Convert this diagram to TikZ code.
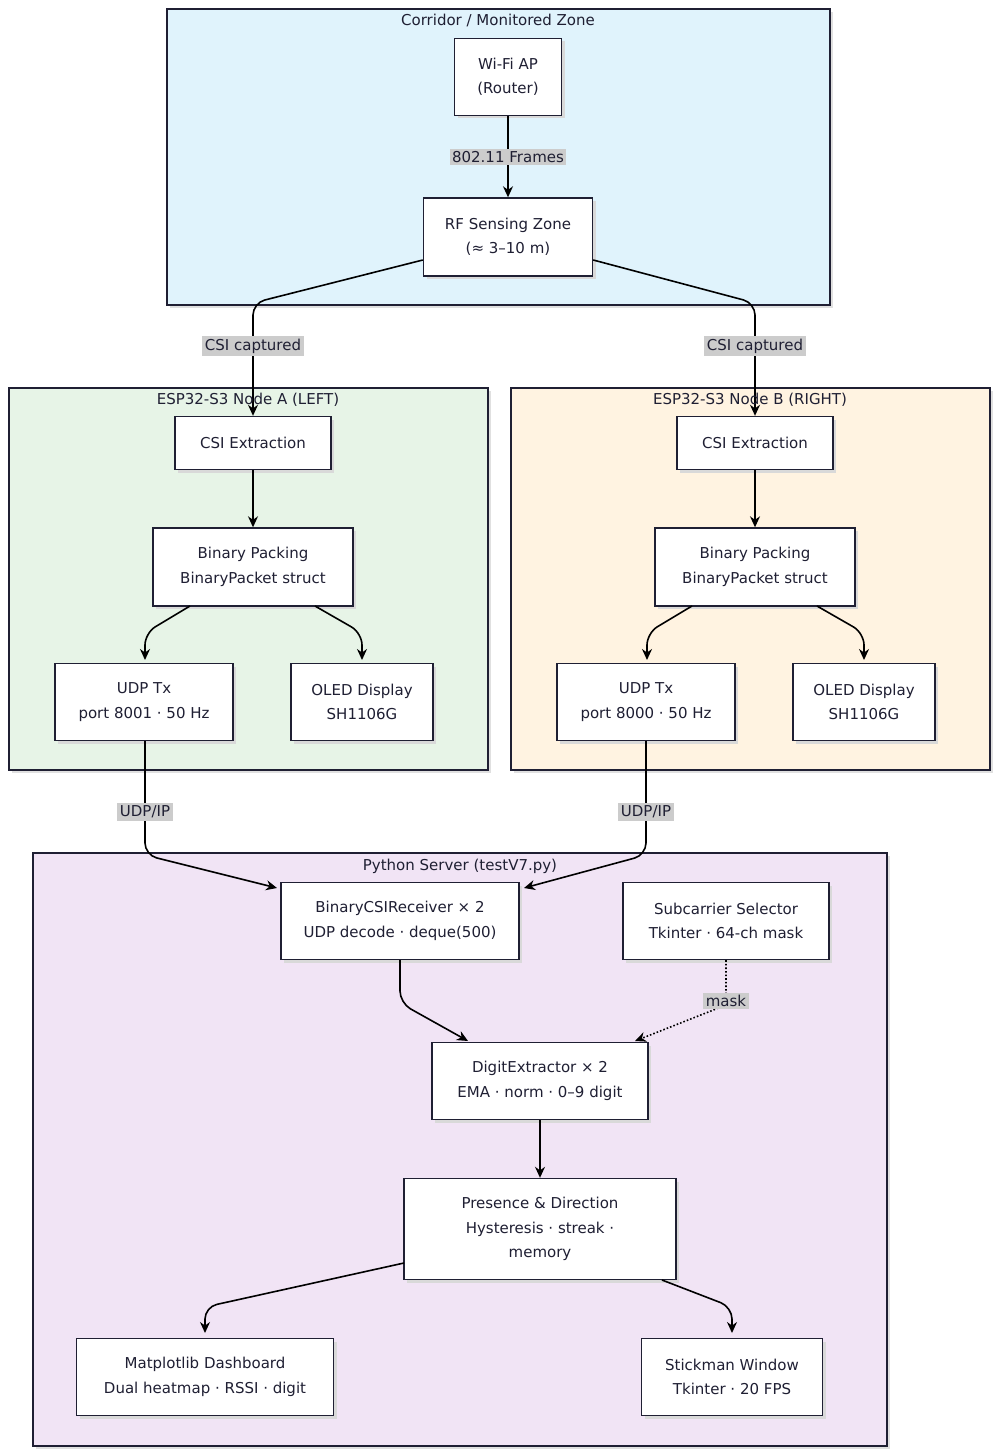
\documentclass[tikz,border=0pt]{standalone}
\usepackage{fontspec}
\setmainfont{DejaVu Sans}
\usetikzlibrary{arrows.meta,shadows}
\definecolor{zblue}{HTML}{E0F3FC}
\definecolor{zgreen}{HTML}{E7F4E7}
\definecolor{zorange}{HTML}{FFF3E1}
\definecolor{zpurple}{HTML}{F1E4F5}
\definecolor{ink}{HTML}{1F1F33}
\tikzset{
  x=1pt,y=-1pt,
  every node/.style={font=\fontsize{15}{24.5}\selectfont, text=ink},
  zone/.style={draw=ink, line width=1.4pt, drop shadow={shadow xshift=3pt,shadow yshift=-3pt,fill=black!12,opacity=1}},
  box/.style={draw=ink, line width=1.4pt, fill=white, align=center, inner sep=0pt,
    drop shadow={shadow xshift=3pt,shadow yshift=-3pt,fill=black!15,opacity=1}},
  lbl/.style={fill=black!20, inner sep=2.5pt, font=\fontsize{15}{17}\selectfont},
  arr/.style={draw=black, line width=1.6pt, rounded corners=12pt, -{Stealth[length=11pt,width=10pt]}},
}
\begin{document}
\begin{tikzpicture}
\useasboundingbox (0,0) rectangle (1000,1455);
% zones
\draw[zone, fill=zblue] (167,9) rectangle (830,305);
\node (tz1) at (498,21) {Corridor / Monitored Zone};
\draw[zone, fill=zgreen] (9,388) rectangle (488,770);
\draw[zone, fill=zorange] (511,388) rectangle (990,770);
\draw[zone, fill=zpurple] (33,853) rectangle (887,1446);
\node (tpy) at (460,866) {Python Server (testV7.py)};
% nodes
\node[box, minimum width=107pt, minimum height=77pt] (ap) at (508,77) {Wi-Fi AP\\(Router)};
\node[box, minimum width=169pt, minimum height=78pt] (rf) at (508,237) {RF Sensing Zone\\(≈ 3–10 m)};
\node[box, minimum width=156pt, minimum height=53pt] (csia) at (253,443) {CSI Extraction};
\node[box, minimum width=200pt, minimum height=78pt] (bpa) at (253,567) {Binary Packing\\BinaryPacket struct};
\node[box, minimum width=178pt, minimum height=77pt] (udpa) at (144,702) {UDP Tx\\port 8001 · 50 Hz};
\node[box, minimum width=142pt, minimum height=77pt] (oleda) at (362,702) {OLED Display\\SH1106G};
\node[box, minimum width=156pt, minimum height=53pt] (csib) at (755,443) {CSI Extraction};
\node[box, minimum width=200pt, minimum height=78pt] (bpb) at (755,567) {Binary Packing\\BinaryPacket struct};
\node[box, minimum width=178pt, minimum height=77pt] (udpb) at (646,702) {UDP Tx\\port 8000 · 50 Hz};
\node[box, minimum width=142pt, minimum height=77pt] (oledb) at (864,702) {OLED Display\\SH1106G};
\node[box, minimum width=238pt, minimum height=77pt] (rx) at (400,921) {BinaryCSIReceiver × 2\\UDP decode · deque(500)};
\node[box, minimum width=206pt, minimum height=77pt] (sub) at (726,921) {Subcarrier Selector\\Tkinter · 64-ch mask};
\node[box, minimum width=216pt, minimum height=77pt] (dig) at (540,1081) {DigitExtractor × 2\\EMA · norm · 0–9 digit};
\node[box, minimum width=272pt, minimum height=101pt] (pres) at (540,1229) {Presence \& Direction\\Hysteresis · streak ·\\memory};
\node[box, minimum width=257pt, minimum height=77pt] (mat) at (205,1377) {Matplotlib Dashboard\\Dual heatmap · RSSI · digit};
\node[box, minimum width=181pt, minimum height=77pt] (stick) at (732,1377) {Stickman Window\\Tkinter · 20 FPS};
% edges
\draw[arr] (ap) -- (rf);
\node[lbl] at (508,157) {802.11 Frames};
\draw[arr] (rf.west |- 0,260) -- (253,303) -- (csia.north);
\draw[arr] (rf.east |- 0,260) -- (755,303) -- (csib.north);
\draw[arr] (csia) -- (bpa);
\draw[arr] (csib) -- (bpb);
\draw[arr] (190,606) -- (145,633) -- (145,660);
\draw[arr] (315,606) -- (362,633) -- (362,660);
\draw[arr] (692,606) -- (647,633) -- (647,660);
\draw[arr] (817,606) -- (864,633) -- (864,660);
\draw[arr] (udpa.south -| 145,0) -- (145,855) -- (277,888);
\draw[arr] (udpb.south) -- (646,855) -- (524,888);
\draw[arr] (rx.south) -- (400,1003) -- (468,1041);
\draw[arr, dotted, rounded corners=10pt] (sub.south) -- (726,1005) -- (635,1041);
\draw[arr] (dig) -- (pres);
\draw[arr] (404,1263) -- (205,1307) -- (205,1333);
\draw[arr] (662,1280) -- (732,1307) -- (732,1333);
% labels / titles over edges
\node[lbl] at (253,346) {CSI captured};
\node[lbl] at (755,346) {CSI captured};
\node at (248,400) {ESP32-S3 Node A (LEFT)};
\node at (750,400) {ESP32-S3 Node B (RIGHT)};
\node[lbl] at (145,812) {UDP/IP};
\node[lbl] at (646,812) {UDP/IP};
\node[lbl] at (726,1001) {mask};
\end{tikzpicture}
\end{document}
